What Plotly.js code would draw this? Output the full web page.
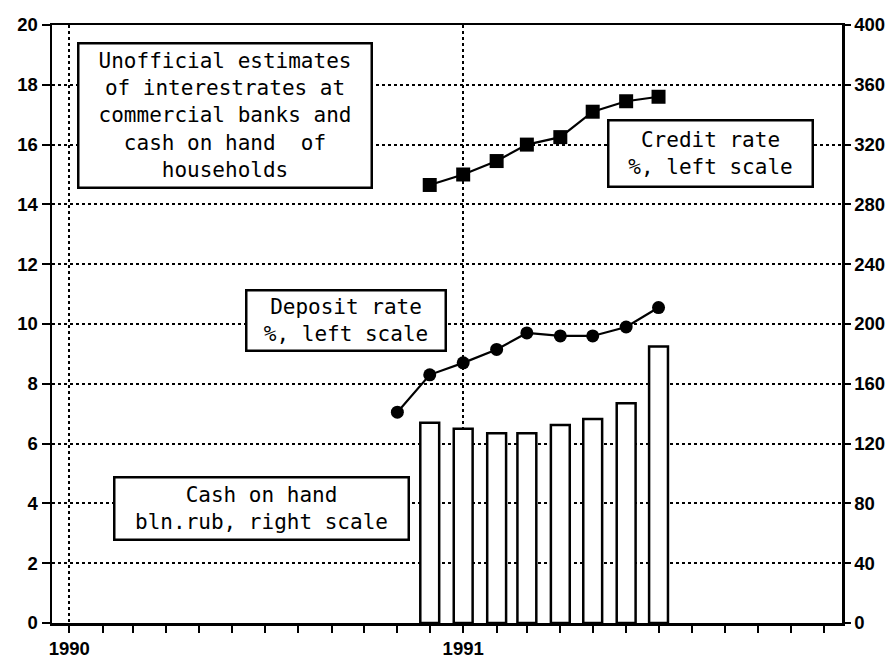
<!DOCTYPE html>
<html><head><meta charset="utf-8">
<script src="https://cdn.plot.ly/plotly-3.0.1.min.js"></script>
<style>html,body{margin:0;padding:0;background:#fff}</style>
</head><body><div id="chart" style="width:890px;height:660px"></div>
<script>
// Data (months as first day of month)
const depositMonths = ['1990-11-01','1990-12-01','1991-01-01','1991-02-01','1991-03-01','1991-04-01','1991-05-01','1991-06-01','1991-07-01'];
const depositRate = [7.05, 8.3, 8.7, 9.15, 9.7, 9.6, 9.6, 9.9, 10.55];
const creditMonths = ['1990-12-01','1991-01-01','1991-02-01','1991-03-01','1991-04-01','1991-05-01','1991-06-01','1991-07-01'];
const creditRate = [14.65, 15.0, 15.45, 16.0, 16.25, 17.1, 17.45, 17.6];
const cashMonths = ['1990-12-01','1991-01-01','1991-02-01','1991-03-01','1991-04-01','1991-05-01','1991-06-01','1991-07-01'];
const cashOnHand = [134, 130, 127, 127, 132.5, 136.5, 147, 185];
const yearTickVals = ['1990-01-01','1991-01-01'];
const yearTickText = ['1990','1991'];

const tickFont = {family:'"Liberation Sans", Arial, sans-serif', size:18.5, color:'#000', weight:'bold'};
const boxFont = {family:'"DejaVu Sans Mono", monospace', size:21, color:'#000'};

const traces = [
  {type:'bar', x:cashMonths, y:cashOnHand, yaxis:'y2', width:17.5*86400000,
   marker:{color:'#fff', line:{color:'#000', width:2.5}}, showlegend:false, hoverinfo:'x+y'},
  {type:'scatter', mode:'lines+markers', x:depositMonths, y:depositRate,
   line:{color:'#000', width:2.2}, marker:{symbol:'circle', size:13, color:'#000'}, showlegend:false},
  {type:'scatter', mode:'lines+markers', x:creditMonths, y:creditRate,
   line:{color:'#000', width:2.2}, marker:{symbol:'square', size:14, color:'#000'}, showlegend:false}
];

function box(text, cx, cy, w, h) {
  return {xref:'paper', yref:'paper', x:cx, y:cy, xanchor:'center', yanchor:'middle',
    text:text, showarrow:false, width:w, height:h, align:'center', valign:'middle',
    bgcolor:'#fff', bordercolor:'#000', borderwidth:2.5, borderpad:1, font:boxFont};
}

const layout = {
  width:890, height:660,
  margin:{l:52, r:48, t:25, b:37},
  paper_bgcolor:'#fff', plot_bgcolor:'#fff',
  bargap:0,
  xaxis:{type:'date', range:['1989-12-16','1991-12-18'],
    tickmode:'array', tickvals:yearTickVals, ticktext:yearTickText,
    ticks:'outside', ticklen:7, tickwidth:2, tickcolor:'#000', tickfont:tickFont, ticklabelstandoff:0,
    showgrid:true, gridcolor:'#000', griddash:'dot', gridwidth:2,
    showline:true, linewidth:2.5, linecolor:'#000', mirror:true, zeroline:false,
    minor:{tickmode:'linear', tick0:'1990-01-01', dtick:'M1', ticks:'outside', ticklen:7, tickwidth:2, tickcolor:'#000', showgrid:false},
    fixedrange:true},
  yaxis:{range:[0,20], tickmode:'linear', tick0:0, dtick:2,
    ticks:'outside', ticklen:8, tickwidth:2, tickcolor:'#000', tickfont:tickFont,
    showgrid:true, gridcolor:'#000', griddash:'dot', gridwidth:2,
    showline:true, linewidth:2.5, linecolor:'#000', zeroline:false},
  yaxis2:{range:[0,400], tickmode:'linear', tick0:0, dtick:40, overlaying:'y', side:'right',
    ticks:'outside', ticklen:6, tickwidth:2, tickcolor:'#000', tickfont:tickFont, ticklabelstandoff:0,
    showgrid:false, showline:true, linewidth:2.5, linecolor:'#000', zeroline:false},
  annotations:[
    box('Unofficial estimates<br>of interestrates at<br>commercial banks and<br>cash on hand  of<br>households', 0.219, 0.849, 289, 140),
    box('Deposit rate<br>%, left scale', 0.372, 0.506, 195, 56),
    box('Credit rate<br>%, left scale', 0.8335, 0.785, 200, 62),
    box('Cash on hand<br>bln.rub, right scale', 0.265, 0.1915, 290, 58)
  ]
};

Plotly.newPlot('chart', traces, layout, {displayModeBar:false, staticPlot:true});
</script>
</body></html>
